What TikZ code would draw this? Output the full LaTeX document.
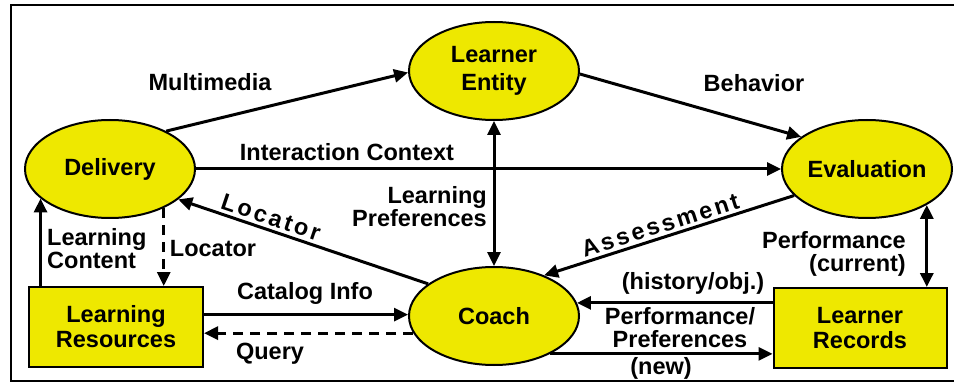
\documentclass[tikz,border=0pt]{standalone}
\usepackage{fontspec}
\setmainfont{Liberation Sans}
\usetikzlibrary{shapes.geometric,arrows.meta}
\definecolor{nodeyellow}{RGB}{238,232,0}
\begin{document}
\begin{tikzpicture}[x=1pt,y=-1pt,
  lbl/.style={font=\bfseries\fontsize{23.5}{23}\selectfont, inner sep=0pt, align=center},
  rot/.style={font=\bfseries\fontsize{23.5}{23}\selectfont\addfontfeature{LetterSpace=12}, inner sep=3pt},
  ell/.style={ellipse, draw, line width=2pt, fill=nodeyellow, minimum width=170pt, minimum height=98pt, inner sep=0pt, align=center, font=\bfseries\fontsize{23.5}{28}\selectfont},
  boxn/.style={rectangle, draw, line width=2pt, fill=nodeyellow, minimum width=174pt, minimum height=80pt, inner sep=0pt, align=center, font=\bfseries\fontsize{23.5}{25}\selectfont},
  arr/.style={line width=3pt, -{Triangle[length=14pt,width=13pt]}},
  arrb/.style={line width=3pt, {Triangle[length=14pt,width=13pt]}-{Triangle[length=14pt,width=13pt]}},
  dsh/.style={dash pattern=on 10pt off 7pt}
]
\useasboundingbox (0,0) rectangle (954,385);
\begin{scope}
\clip (0,0) rectangle (954,385);
\draw[line width=2pt] (11,5) rectangle (975,381);
\end{scope}

\node[ell] (LE) at (494,71) {Learner\\Entity};
\node[ell] (DL) at (110,169) {Delivery};
\node[ell] (EV) at (867,169) {Evaluation};
\node[ell] (CO) at (494,316) {Coach};
\node[boxn] (LR) at (116,327) {Learning\\Resources};
\node[boxn, minimum width=173pt] (RC) at (860,328) {Learner\\Records};

% connectors
\draw[arr] (DL.34) -- (LE.181);
\draw[arr] (LE.-2) -- (EV.154);
\draw[arr] (DL.east) -- (EV.west);
\draw[arrb] (LE.south) -- (CO.north);
\draw[arr] (CO.154) -- (DL.-24) node[rot, pos=0.645, sloped, above] {Locator};
\draw[arr] (EV.-160) -- (CO.39) node[rot, pos=0.52, sloped, above] {Assessment};
\draw[arrb] (EV.-31) -- (EV.-31 |- RC.north);
\draw[arr] (RC.164) -- (RC.164 -| CO.9);
\draw[arr] (CO.-34) -- (CO.-34 -| RC.west);
\draw[arr] (LR.8.5) -- (LR.8.5 -| CO.west);
\draw[arr, dsh] (CO.192.5) -- (CO.192.5 -| LR.east);
\draw[arr] (LR.north -| DL.-157.5) -- (DL.-157.5);
\draw[arr, dsh] (DL.-36.7) -- (DL.-36.7 |- LR.north);

% labels
\node[lbl] (lmm) at (210,82) {Multimedia};
\node[lbl] (lbh) at (754,83) {Behavior};
\node[lbl] (lic) at (347,152) {Interaction Context};
\node[lbl, anchor=east, align=right] (llp) at (487,207) {Learning\\Preferences};
\node[lbl] (llo) at (213,249) {Locator};
\node[lbl, anchor=west, align=left] (llc) at (47,249) {Learning\\Content};
\node[lbl] (lci) at (305,293) {Catalog Info};
\node[lbl] (lqu) at (270,354) {Query};
\node[lbl, anchor=east, align=right] (lpc) at (906,254) {Performance\\(current)};
\node[lbl] (lho) at (693,283) {(history/obj.)};
\node[lbl] (lpp) at (680,328) {Performance/\\Preferences};
\node[lbl] (lnw) at (661,368) {(new)};
\end{tikzpicture}
\end{document}
